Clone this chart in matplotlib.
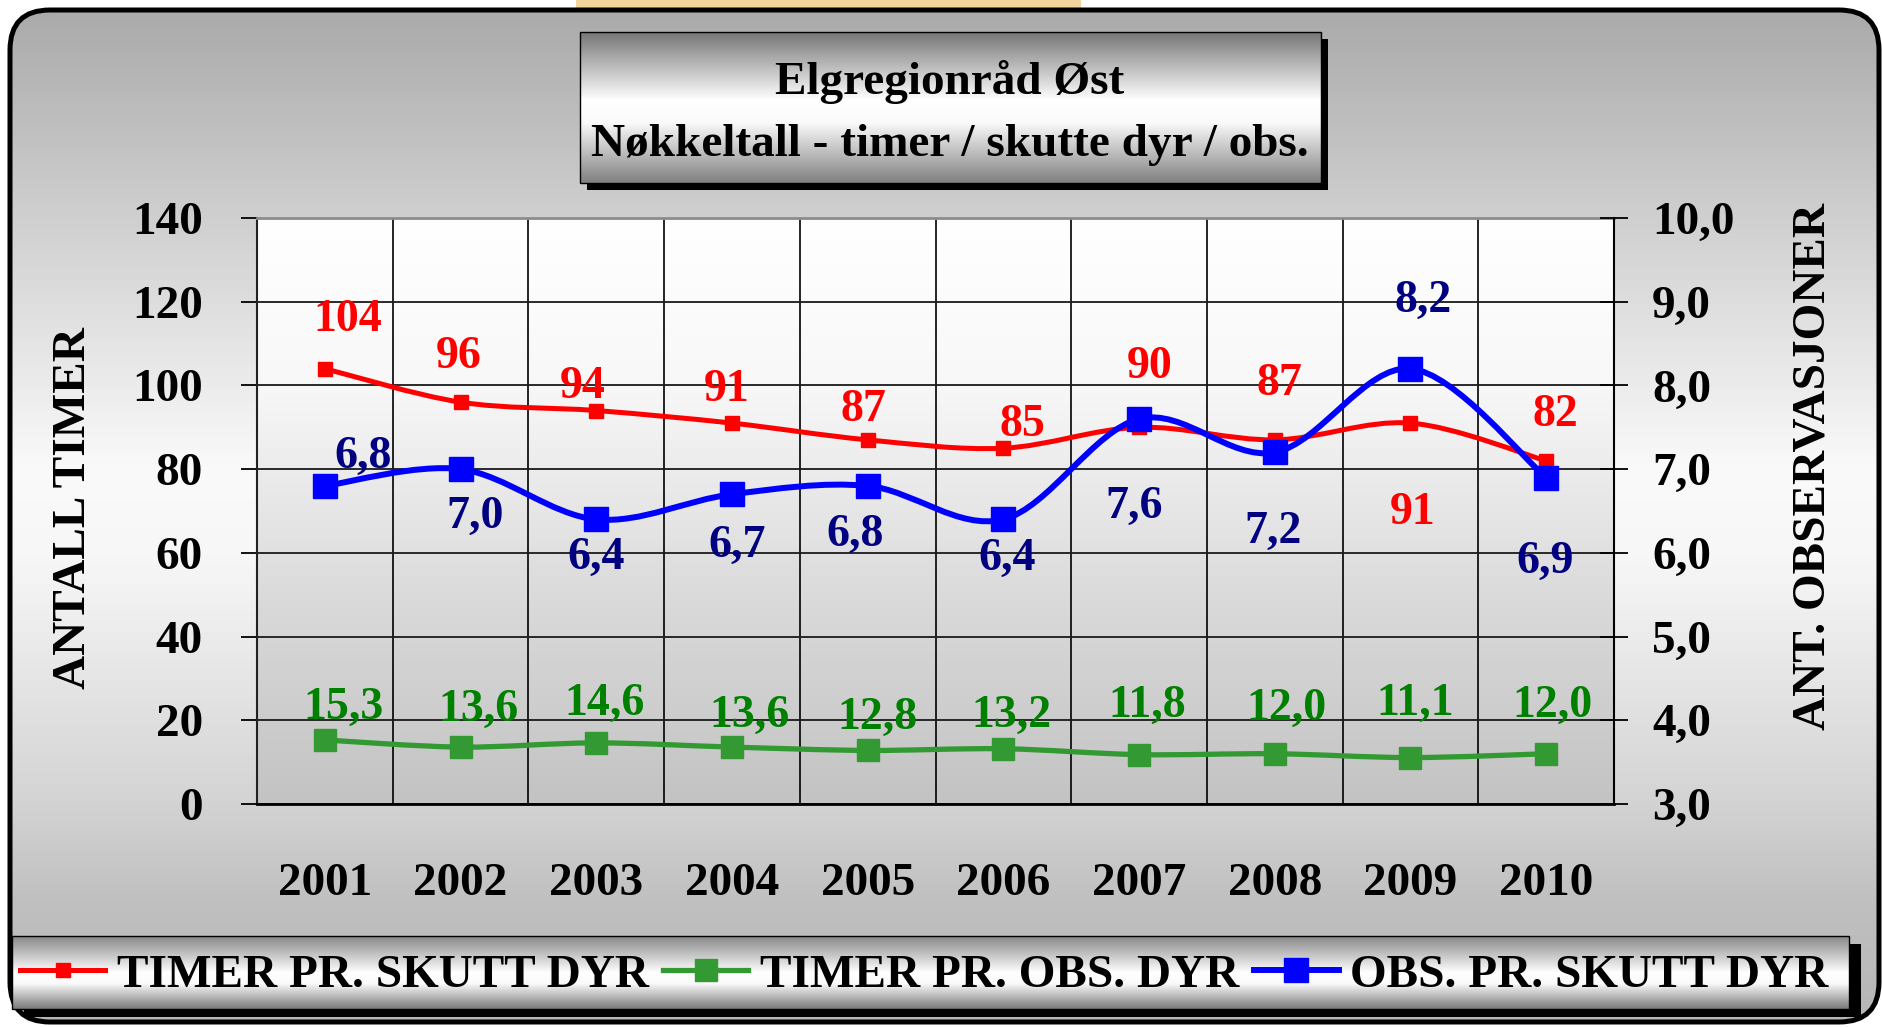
import matplotlib
matplotlib.use("Agg")
import matplotlib.pyplot as plt
import numpy as np
from matplotlib.patches import FancyBboxPatch, Rectangle, PathPatch
from matplotlib.path import Path
from matplotlib.lines import Line2D

plt.rcParams['font.family'] = ['Liberation Serif', 'DejaVu Serif']
plt.rcParams['font.weight'] = 'bold'

# ---- data ----
years = ['2001', '2002', '2003', '2004', '2005', '2006', '2007', '2008', '2009', '2010']
timer_skutt = [104, 96, 94, 91, 87, 85, 90, 87, 91, 82]                    # left axis
timer_obs = [15.3, 13.6, 14.6, 13.6, 12.8, 13.2, 11.8, 12.0, 11.1, 12.0]   # left axis
obs_skutt = [6.8, 7.0, 6.4, 6.7, 6.8, 6.4, 7.6, 7.2, 8.2, 6.9]             # right axis
left_ticks = [0, 20, 40, 60, 80, 100, 120, 140]
right_ticks = [3.0, 4.0, 5.0, 6.0, 7.0, 8.0, 9.0, 10.0]

# where each data label sits relative to its marker (points)
red_off = [(16.8, 38.9), (-1.4, 36.2), (-9.8, 20.6), (-4, 27.3), (-2.7, 24.9),
           (14, 20.1), (7.8, 47.1), (3.4, 44.1), (1.8, -60.8), (6.3, 36.3)]
green_off = [(13.2, 26.9), (12.7, 30.4), (6.3, 31.5), (12.7, 26.1), (6.9, 27.3),
             (5.5, 27.3), (5.5, 38.7), (8.6, 35.7), (3.2, 42), (4.7, 38.1)]
blue_off = [(27.4, 24.3), (10.7, -30.9), (-0.2, -23.8), (3.4, -33.9), (-9.1, -32),
            (2.6, -24.8), (-3.4, -59.8), (-1.4, -53.7), (8.8, 52.1), (-0.6, -57.5)]

W, H = 1883, 1027
fig = plt.figure(figsize=(W / 100, H / 100), dpi=100, facecolor='white')


def vgrad(pos, levels):
    t = np.linspace(0, 1, 400)
    g = np.interp(t, pos, levels) / 255.0
    return np.repeat(g[:, None, None], 3, axis=2)


def comma(v):
    return f"{v:.1f}".replace('.', ',')


def smooth_path(xs, ys):
    # Excel style smoothed line: Catmull-Rom segments as cubic Beziers
    p = np.column_stack([xs, ys]).astype(float)
    n = len(p)
    verts, codes = [p[0]], [Path.MOVETO]
    for i in range(n - 1):
        p0, p1, p2, p3 = p[max(i - 1, 0)], p[i], p[i + 1], p[min(i + 2, n - 1)]
        verts += [p1 + (p2 - p0) / 6, p2 - (p3 - p1) / 6, p2]
        codes += [Path.CURVE4] * 3
    return Path(verts, codes)


# ---- background: rounded metallic panel, title box, legend box ----
bg = fig.add_axes([0, 0, 1, 1], zorder=-1)
bg.axis('off')

# bit of the logo peeking out above the panel
bg.add_patch(Rectangle((576, 0), 505, 12, fc='#f2d49c', ec='none', zorder=0))

panel = FancyBboxPatch((10, 10), 1869, 1012, boxstyle='round,pad=0,rounding_size=40',
                       transform=bg.transData, fc='none', ec='black', lw=3.6, zorder=3)
im = bg.imshow(vgrad([0, 0.19, 0.455, 0.54, 0.78, 0.88, 1],
                     [170, 205, 250, 247, 212, 192, 182]),
               extent=(10, 1879, 1022, 10), aspect='auto', zorder=1)
im.set_clip_path(panel)
bg.add_patch(panel)

# title box
bg.add_patch(Rectangle((587, 39), 741, 151, fc='black', ec='none', zorder=2))
bg.imshow(vgrad([0, 0.45, 0.6, 1], [118, 255, 250, 128]),
          extent=(580, 1321, 183, 32), aspect='auto', zorder=3)
bg.add_patch(Rectangle((580, 32), 741, 151, fc='none', ec='black', lw=1, zorder=4))

# legend box
bg.add_patch(Rectangle((24, 944), 1837, 73, fc='black', ec='none', zorder=2))
bg.imshow(vgrad([0, 0.5, 0.65, 1], [135, 255, 250, 120]),
          extent=(12, 1849, 1009, 936), aspect='auto', zorder=3)
bg.add_patch(Rectangle((12, 936), 1837, 73, fc='none', ec='black', lw=1, zorder=4))

bg.set_xlim(0, W)
bg.set_ylim(H, 0)

fig.text(950 / W, 1 - 77.5 / H, 'Elgregionråd Øst', ha='center', va='center_baseline',
         fontsize=34, fontweight='bold')
fig.text(950 / W, 1 - 140 / H, 'Nøkkeltall - timer / skutte dyr / obs.', ha='center',
         va='center_baseline', fontsize=34, fontweight='bold')

# ---- main plot ----
x = np.arange(1, len(years) + 1)
ax = fig.add_axes([257 / W, 1 - 804 / H, 1357 / W, 586 / H])
ax.patch.set_visible(False)
ax.imshow(vgrad([0, 0.28, 0.65, 1], [255, 248, 218, 195]),
          extent=(0.5, 10.5, 0, 140), aspect='auto', zorder=0)
ax.set_xlim(0.5, 10.5)
ax.set_ylim(0, 140)

ax.set_yticks(left_ticks)
ax.set_yticklabels([str(t) for t in left_ticks])
ax.yaxis.grid(True, color='#1a1a1a', lw=1.3)
ax.set_xticks(x)
ax.set_xticklabels(years)
ax.set_xticks(np.arange(1.5, 10.5, 1), minor=True)
ax.xaxis.grid(True, which='minor', color='black', lw=1.2)
ax.xaxis.grid(False, which='major')
ax.tick_params(axis='x', which='both', length=0, pad=42.5, labelsize=34)
ax.tick_params(axis='y', direction='out', length=11.5, width=1.3, pad=27.4, labelsize=34)
ax.spines['top'].set_color('#8c8c8c')
ax.spines['top'].set_linewidth(2)
ax.spines['left'].set_color('#222222')
ax.spines['left'].set_linewidth(1.5)
ax.spines['bottom'].set_linewidth(2)
ax.spines['right'].set_visible(False)

red_style = dict(color='#ff0000', lw=3.6, marker='s', ms=9.4)
green_style = dict(color='#339933', lw=3.8, marker='s', ms=16)
blue_style = dict(color='#0000ff', lw=4.3, marker='s', ms=17.3)

ax.add_patch(PathPatch(smooth_path(x, timer_obs), fill=False, ec=green_style['color'],
                       lw=green_style['lw'], capstyle='round', joinstyle='round', zorder=3))
ax.plot(x, timer_obs, ls='none', marker='s', ms=green_style['ms'],
        color=green_style['color'], zorder=4)
ax.add_patch(PathPatch(smooth_path(x, timer_skutt), fill=False, ec=red_style['color'],
                       lw=red_style['lw'], capstyle='round', joinstyle='round', zorder=3))
ax.plot(x, timer_skutt, ls='none', marker='s', ms=red_style['ms'],
        color=red_style['color'], zorder=4)

for xi, v, (dx, dy) in zip(x, timer_skutt, red_off):
    ax.annotate(str(v), (xi, v), xytext=(dx, dy), textcoords='offset points',
                ha='center', va='center_baseline', fontsize=33, color='#ff0000', zorder=6)
for xi, v, (dx, dy) in zip(x, timer_obs, green_off):
    ax.annotate(comma(v), (xi, v), xytext=(dx, dy), textcoords='offset points',
                ha='center', va='center_baseline', fontsize=33, color='#008000', zorder=6)

# right axis
ax2 = ax.twinx()
ax2.set_ylim(3, 10)
ax2.set_yticks(right_ticks)
ax2.set_yticklabels([comma(t) for t in right_ticks])
ax2.tick_params(axis='y', direction='inout', length=20, width=1.3, pad=17.3, labelsize=34)
for s in ['top', 'left', 'bottom']:
    ax2.spines[s].set_visible(False)
ax2.spines['right'].set_linewidth(1.5)

ax2.add_patch(PathPatch(smooth_path(x, obs_skutt), fill=False, ec=blue_style['color'],
                        lw=blue_style['lw'], capstyle='round', joinstyle='round', zorder=3))
ax2.plot(x, obs_skutt, ls='none', marker='s', ms=blue_style['ms'],
         color=blue_style['color'], zorder=4)
for xi, v, (dx, dy) in zip(x, obs_skutt, blue_off):
    ax2.annotate(comma(v), (xi, v), xytext=(dx, dy), textcoords='offset points',
                 ha='center', va='center_baseline', fontsize=33, color='#000080', zorder=6)

fig.text(74 / W, 1 - 508 / H, 'ANTALL TIMER', rotation=90, ha='center', va='center',
         fontsize=34, fontweight='bold')
fig.text(1814 / W, 1 - 466 / H, 'ANT. OBSERVASJONER', rotation=90, ha='center', va='center',
         fontsize=34, fontweight='bold')

# ---- legend ----
handles = [Line2D([], [], **red_style), Line2D([], [], **green_style),
           Line2D([], [], **blue_style)]
labels = ['TIMER PR. SKUTT DYR', 'TIMER PR. OBS. DYR', 'OBS. PR. SKUTT DYR']
fig.legend(handles, labels, loc='center', bbox_to_anchor=(924.5 / W, 1 - 975 / H), ncol=3,
           frameon=False, fontsize=34, handlelength=1.8, handletextpad=0.25,
           columnspacing=0.3, borderpad=0, borderaxespad=0)

fig.savefig('out.png', dpi=100, facecolor='white')
